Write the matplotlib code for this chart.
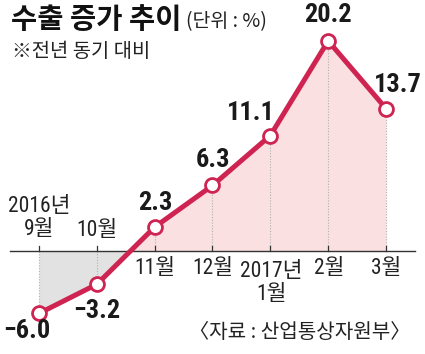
import matplotlib
matplotlib.use("Agg")
import matplotlib.pyplot as plt
import numpy as np

months = ["2016년\n9월", "10월", "11월", "12월", "2017년\n1월", "2월", "3월"]
values = [-6.0, -3.2, 2.3, 6.3, 11.1, 20.2, 13.7]
value_labels = ["−6.0", "−3.2", "2.3", "6.3", "11.1", "20.2", "13.7"]

LINE = "#cf2451"
PINK = "#fbe0e2"
GRAY = "#e2e2e2"
NUM_FONT = ["Roboto Condensed", "Barlow Semi Condensed", "DejaVu Sans"]
KR_FONT = ["Noto Sans CJK KR", "DejaVu Sans"]
MIX_FONT = ["Roboto Condensed", "Noto Sans CJK KR", "DejaVu Sans"]

W, H = 425, 354
fig = plt.figure(figsize=(W / 100, H / 100), dpi=100)
ax = fig.add_axes([0, 0, 1, 1])

x0px, dxpx = 39, 57.83
y0px, dypx = 251, 10.4
ax.set_xlim(-x0px / dxpx, (W - x0px) / dxpx)
ax.set_ylim(-(H - y0px) / dypx, y0px / dypx)
ax.axis("off")

def px(xp, yp):
    return ((xp - x0px) / dxpx, (y0px - yp) / dypx)

x = np.arange(len(values))
v = np.array(values)

xf = np.linspace(0, len(values) - 1, 2000)
vf = np.interp(xf, x, v)
ax.fill_between(xf, vf, 0, where=vf < 0, color=GRAY, lw=0, zorder=1)
ax.fill_between(xf, vf, 0, where=vf >= 0, color=PINK, lw=0, zorder=1)

for xi, vi in zip(x, v):
    ax.plot([xi, xi], [0, vi], color="#b0b0b0", lw=0.8, ls=(0, (1, 1.5)), zorder=2)

zl, zr = px(10, 0)[0], px(415, 0)[0]
ax.plot([zl, zr], [0, 0], color="#333333", lw=1.0, zorder=3)
for xi in x:
    ax.plot([xi, xi], [0, 5 / dypx], color="#333333", lw=0.9, zorder=3)

ax.plot(x, v, color=LINE, lw=3.6, zorder=4, solid_capstyle="round")
ax.plot(x, v, ls="none", marker="o", ms=10, mfc="white", mec=LINE, mew=2.0, zorder=5)

lab_pos = [(27, 331), (97, 311), (155, 203), (213, 160), (251, 113), (328, 15), (398, 85)]
for (lx, ly), t in zip(lab_pos, value_labels):
    ax.text(*px(lx, ly), t, ha="center", va="center", fontsize=19,
            family=NUM_FONT, weight="bold", color="#1a1a1a", zorder=6)

mon_pos = [(39, 218), (97, 230), (155, 268), (213, 268), (271, 283), (329, 268), (386, 268)]
for (mx, my), t in zip(mon_pos, months):
    ax.text(*px(mx, my), t, ha="center", va="center", fontsize=15.5,
            family=MIX_FONT, color="#222222", linespacing=1.15, zorder=6)

ax.text(*px(11, 20), "수출 증가 추이", ha="left", va="center", fontsize=20.5,
        family=KR_FONT, weight="bold", color="#111111")
ax.text(*px(186, 22), "(단위 : %)", ha="left", va="center", fontsize=14,
        family=KR_FONT, color="#222222")
ax.text(*px(12, 52), "※전년 동기 대비", ha="left", va="center", fontsize=14.3,
        family=KR_FONT, color="#222222")
ax.text(*px(410, 332), "〈자료 : 산업통상자원부〉", ha="right", va="center", fontsize=14.5,
        family=KR_FONT, color="#222222")

fig.savefig("out.png", dpi=100)
